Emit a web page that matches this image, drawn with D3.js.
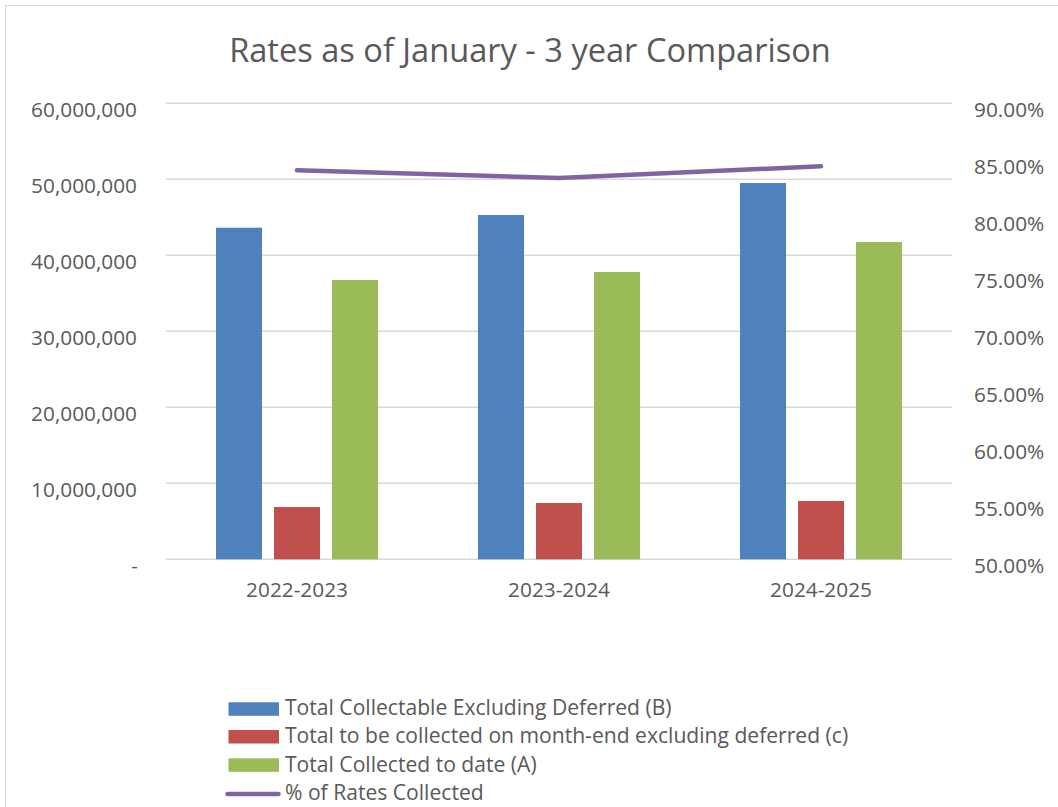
<!DOCTYPE html>
<html><head><meta charset="utf-8">
<script src="https://cdn.jsdelivr.net/npm/d3@7"></script>
<style>body{margin:0;background:#fff;} svg{display:block;} text{font-family:"Open Sans", sans-serif; fill:#595959;}</style>
</head><body>
<svg id="chart" width="1058" height="807"></svg>
<script>
const categories = ["2022-2023", "2023-2024", "2024-2025"];
const seriesNames = ["Total Collectable Excluding Deferred (B)", "Total to be collected on month-end excluding deferred (c)", "Total Collected to date (A)"];
const collectableB = [43630000, 45300000, 49510000];
const toBeCollectedC = [6880000, 7410000, 7670000];
const collectedA = [36750000, 37800000, 41750000];
const lineName = "% of Rates Collected";
const pctCollected = [0.8412, 0.8345, 0.8447];
const leftTicks = [0, 10000000, 20000000, 30000000, 40000000, 50000000, 60000000];
const rightTicks = [0.50, 0.55, 0.60, 0.65, 0.70, 0.75, 0.80, 0.85, 0.90];
const colors = ["#4F81BD", "#C0504D", "#9BBB59"];
const lineColor = "#8064A2";

const svg = d3.select("#chart");
const m = {left:166, right:952, top:103.3, bottom:559.3};

svg.append("rect").attr("x",5.5).attr("y",5.5).attr("width",1058).attr("height",820)
  .attr("fill","none").attr("stroke","#D9D9D9");

svg.append("text").attr("x",530).attr("y",62).attr("text-anchor","middle")
  .style("font-size","32.6px").text("Rates as of January - 3 year Comparison");

const x = d3.scaleBand().domain(categories).range([m.left, m.right]);
const xs = d3.scaleBand().domain([0,1,2]).range([0, 162]).paddingInner(12/58);
const yL = d3.scaleLinear().domain([0, 60000000]).range([m.bottom, m.top]);
const yR = d3.scaleLinear().domain([0.5, 0.9]).range([m.bottom, m.top]);

// gridlines
svg.append("g").selectAll("line").data(leftTicks).join("line")
  .attr("x1", m.left).attr("x2", m.right)
  .attr("y1", d=>yL(d)).attr("y2", d=>yL(d))
  .attr("stroke","#D9D9D9").attr("stroke-width",1.5);

const fs = "20.8px";
// left axis
const leftAxis = d3.axisLeft(yL).tickValues(leftTicks)
  .tickFormat(d => d===0 ? "-" : d3.format(",")(d)).tickSize(0).tickPadding(0);
const gl = svg.append("g").attr("transform", "translate(137,0)").call(leftAxis);
gl.select(".domain").remove();
gl.selectAll("text").style("font-size",fs).attr("fill","#595959").attr("dy",0).attr("y",13.4);
gl.selectAll("text").filter(d=>d===0).attr("x",1);

// right axis
const rightAxis = d3.axisRight(yR).tickValues(rightTicks)
  .tickFormat(d3.format(".2%")).tickSize(0).tickPadding(0);
const gr = svg.append("g").attr("transform","translate(974,0)").call(rightAxis);
gr.select(".domain").remove();
gr.selectAll("text").style("font-size",fs).attr("fill","#595959").attr("dy",0).attr("y",13.4);

// x labels
const gx = svg.append("g").attr("transform", `translate(0,${m.bottom})`)
  .call(d3.axisBottom(x).tickSize(0).tickPadding(0));
gx.select(".domain").remove();
gx.selectAll("text").style("font-size",fs).attr("fill","#595959").attr("y",38).attr("dy",0);

// bars
const series = [collectableB, toBeCollectedC, collectedA];
const offset = (x.bandwidth() - 162)/2;
series.forEach((vals, si) => {
  svg.append("g").selectAll("rect").data(vals).join("rect")
    .attr("x", (d,i) => x(categories[i]) + offset + xs(si))
    .attr("width", xs.bandwidth())
    .attr("y", d => yL(d))
    .attr("height", d => yL(0) - yL(d))
    .attr("fill", colors[si]);
});

// line
const line = d3.line().x((d,i)=>x(categories[i]) + x.bandwidth()/2).y(d=>yR(d));
svg.append("path").datum(pctCollected).attr("d", line)
  .attr("fill","none").attr("stroke",lineColor).attr("stroke-width",4.5).attr("stroke-linecap","round");

// legend
const lg = svg.append("g");
const swY = [702.3, 730, 758.3];
const baseY = [715, 743, 771.5, 800];
const lfs = "21.1px";
seriesNames.forEach((n,i) => {
  lg.append("rect").attr("x",228.5).attr("y",swY[i]).attr("width",50.5).attr("height",13.5).attr("fill",colors[i]);
  lg.append("text").attr("x",285).attr("y",baseY[i]).style("font-size",lfs).text(n);
});
lg.append("line").attr("x1",227.5).attr("x2",278.5).attr("y1",794).attr("y2",794)
  .attr("stroke",lineColor).attr("stroke-width",4.5).attr("stroke-linecap","round");
lg.append("text").attr("x",285).attr("y",baseY[3]).style("font-size",lfs).text(lineName);
</script>
</body></html>
